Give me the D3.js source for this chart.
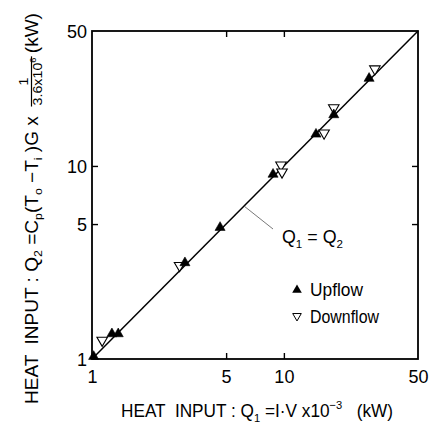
<!DOCTYPE html>
<html>
<head>
<meta charset="utf-8">
<script src="https://cdn.jsdelivr.net/npm/d3@7"></script>
<style>
  body { margin: 0; background: #fff; }
  svg { display: block; }
  text { white-space: pre; }
</style>
</head>
<body>
<svg id="chart" width="436" height="429"></svg>
<script>
// Measured heat input (electrical) vs. heat input from the coolant enthalpy rise
const upflowQ1   = [1.02, 1.27, 1.37, 3.05, 4.65, 8.78, 14.7, 18.2, 27.8];
const upflowQ2   = [1.03, 1.35, 1.35, 3.15, 4.80, 9.05, 14.6, 18.4, 28.4];
const downflowQ1 = [1.13, 2.86, 9.66, 9.78, 16.2, 18.2, 29.8];
const downflowQ2 = [1.25, 3.05, 10.1, 9.30, 14.8, 20.0, 31.8];

// Reference line Q1 = Q2
const identityLine = [1, 50];

const tickLabels = [1, 5, 10, 50];
const tickMarks  = [5, 10];

const font = "'Liberation Sans', Arial, sans-serif";

const svg = d3.select("#chart");
const plotL = 92, plotR = 418, plotT = 31, plotB = 359;

const x = d3.scaleLog().domain([1, 50]).range([plotL, plotR]);
const y = d3.scaleLog().domain([1, 50]).range([plotB, plotT]);

// Inward tick marks on all four sides
const tickAxes = [
  [d3.axisBottom(x), `translate(0,${plotB})`],
  [d3.axisTop(x),    `translate(0,${plotT})`],
  [d3.axisLeft(y),   `translate(${plotL},0)`],
  [d3.axisRight(y),  `translate(${plotR},0)`]
];
tickAxes.forEach(([axis, tr]) => {
  const g = svg.append("g").attr("transform", tr)
    .call(axis.tickValues(tickMarks).tickSize(-6).tickFormat(""));
  g.select(".domain").remove();
  g.selectAll("line").attr("stroke", "#000").attr("stroke-width", 1.4);
});

// Tick labels
const fmt = d => String(d);
const xLab = svg.append("g").attr("transform", `translate(0,${plotB})`)
  .call(d3.axisBottom(x).tickValues(tickLabels).tickSize(0).tickPadding(11).tickFormat(fmt));
const yLab = svg.append("g").attr("transform", `translate(${plotL},0)`)
  .call(d3.axisLeft(y).tickValues(tickLabels).tickSize(0).tickPadding(5).tickFormat(fmt));
[xLab, yLab].forEach(g => {
  g.select(".domain").remove();
  g.selectAll("text").attr("font-family", font).attr("font-size", 18).attr("fill", "#000");
});
yLab.selectAll("text").attr("dy", "0.36em");

// Plot frame
svg.append("rect")
  .attr("x", plotL).attr("y", plotT)
  .attr("width", plotR - plotL).attr("height", plotB - plotT)
  .attr("fill", "none").attr("stroke", "#000").attr("stroke-width", 1.8);

// Q1 = Q2 line
svg.append("path")
  .datum(identityLine)
  .attr("d", d3.line().x(d => x(d)).y(d => y(d)))
  .attr("fill", "none").attr("stroke", "#000").attr("stroke-width", 1.5);

// Markers
const upSym = d3.symbol().type(d3.symbolTriangle).size(44);
const downSym = d3.symbol().type(d3.symbolTriangle).size(48);

svg.append("g").selectAll("path")
  .data(downflowQ1.map((q, i) => [q, downflowQ2[i]]))
  .join("path")
  .attr("d", downSym)
  .attr("transform", d => `translate(${x(d[0])},${y(d[1])}) rotate(180)`)
  .attr("fill", "#fff").attr("stroke", "#000").attr("stroke-width", 1.1);

svg.append("g").selectAll("path")
  .data(upflowQ1.map((q, i) => [q, upflowQ2[i]]))
  .join("path")
  .attr("d", upSym)
  .attr("transform", d => `translate(${x(d[0])},${y(d[1])})`)
  .attr("fill", "#000").attr("stroke", "#000").attr("stroke-width", 0.6);

// Text runs with subscripts / superscripts
function richText(sel, parts, size) {
  let shift = 0;
  parts.forEach(([s, kind]) => {
    const target = kind === "sub" ? size * 0.25 : kind === "sup" ? -size * 0.42 : 0;
    sel.append("tspan")
      .attr("font-size", kind ? size * 0.65 : size)
      .attr("dy", target - shift)
      .text(s);
    shift = target;
  });
  return sel;
}

// Condensed text: draw at natural width, then squeeze horizontally to a given width
function fitText(parent, px, py, parts, size, width) {
  const g = parent.append("g").attr("transform", `translate(${px},${py})`);
  const inner = g.append("g");
  const t = richText(inner.append("text").attr("font-family", font).attr("fill", "#000"), parts, size);
  const w = t.node().getComputedTextLength();
  inner.attr("transform", `scale(${width / w},1)`);
  return g;
}

const labelSize = 18;

// Annotation for the identity line
svg.append("line")
  .attr("x1", x(6.2)).attr("y1", y(6.2))
  .attr("x2", 273).attr("y2", 229)
  .attr("stroke", "#555").attr("stroke-width", 0.8);
fitText(svg, 282, 243, [["Q", ""], ["1", "sub"], [" = Q", ""], ["2", "sub"]], labelSize, 61);

// Legend
const legend = svg.append("g");
legend.append("path").attr("d", d3.symbol().type(d3.symbolTriangle).size(40))
  .attr("transform", "translate(297,290)").attr("fill", "#000");
legend.append("path").attr("d", d3.symbol().type(d3.symbolTriangle).size(32))
  .attr("transform", "translate(297,316) rotate(180)")
  .attr("fill", "#fff").attr("stroke", "#000").attr("stroke-width", 1);
fitText(legend, 310, 296, [["Upflow", ""]], labelSize, 53);
fitText(legend, 310, 323, [["Downflow", ""]], labelSize, 69);

// X axis title
fitText(svg, 121, 417,
  [["HEAT  INPUT : Q", ""], ["1", "sub"], [" =I\u00B7V x10", ""], ["\u22123", "sup"], ["   (kW)", ""]],
  labelSize, 272);

// Y axis title (rotated), with the 1/(3.6x10^6) fraction
const yt = svg.append("g").attr("transform", "translate(37.5,404) rotate(-90)");
const ytIn = yt.append("g");
const main = richText(ytIn.append("text").attr("font-family", font).attr("fill", "#000"),
  [["HEAT  INPUT : Q", ""], ["2", "sub"], [" =C", ""], ["p", "sub"], ["(T", ""], ["o", "sub"],
   [" \u2212T", ""], ["i", "sub"], [" )G x", ""]], labelSize);
const w = main.node().getComputedTextLength();
const fracSize = 13.5;
const denom = richText(ytIn.append("text").attr("font-family", font).attr("fill", "#000")
  .attr("y", 4), [["3.6x10", ""], ["6", "sup"]], fracSize);
const dw = denom.node().getComputedTextLength();
const fx = w + 10;
denom.attr("x", fx);
ytIn.append("line").attr("x1", fx - 1).attr("x2", fx + dw + 1)
  .attr("y1", -6).attr("y2", -6).attr("stroke", "#000").attr("stroke-width", 1.2);
ytIn.append("text").attr("x", fx + dw / 2).attr("y", -10)
  .attr("font-family", font).attr("font-size", fracSize)
  .attr("text-anchor", "middle").text("1");
const kw = ytIn.append("text").attr("x", fx + dw + 4).attr("y", 0)
  .attr("font-family", font).attr("font-size", labelSize).text("(kW)");
const total = fx + dw + 4 + kw.node().getComputedTextLength();
ytIn.attr("transform", `scale(${391 / total},1)`);
</script>
</body>
</html>
